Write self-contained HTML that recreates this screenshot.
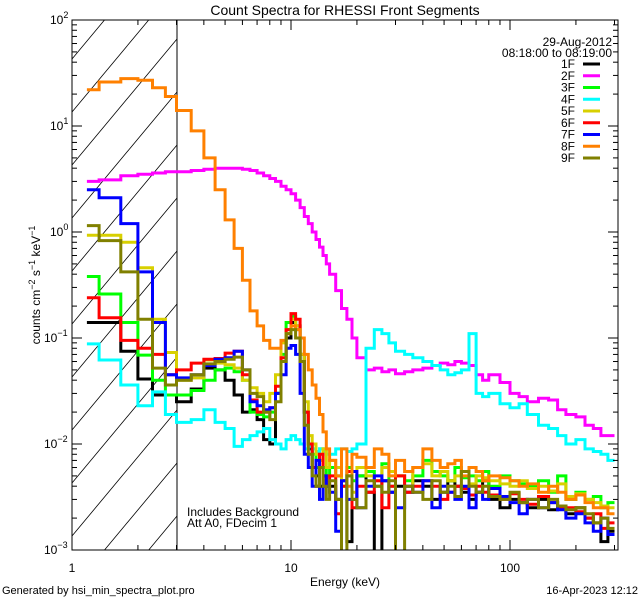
<!DOCTYPE html>
<html><head><meta charset="utf-8"><style>
html,body{margin:0;padding:0;background:#fff;width:640px;height:600px;overflow:hidden;}
svg{display:block;}
svg text{font-family:"Liberation Sans",sans-serif;fill:#000;}
</style></head><body>
<svg id="chart" width="640" height="600" viewBox="0 0 640 600" xmlns="http://www.w3.org/2000/svg">
<rect x="0" y="0" width="640" height="600" fill="#fff"/>
<defs><clipPath id="plotclip"><rect x="72" y="20" width="546" height="530"/></clipPath></defs>
<text x="345" y="15" font-size="14" text-anchor="middle">Count Spectra for RHESSI Front Segments</text>
<g id="hatch"></g>
<line x1="177" y1="20" x2="177" y2="550" stroke="#000" stroke-width="1"/>
<g id="series" clip-path="url(#plotclip)"></g>
<rect x="72" y="20" width="546" height="530" fill="none" stroke="#000" stroke-width="1"/>
<g id="axes"></g>
<text transform="translate(40,285) rotate(-90)" font-size="12" text-anchor="middle">counts cm<tspan dy="-5" font-size="9">−2</tspan><tspan dy="5"> s</tspan><tspan dy="-5" font-size="9">−1</tspan><tspan dy="5"> keV</tspan><tspan dy="-5" font-size="9">−1</tspan></text>
<text x="345" y="586" font-size="12" text-anchor="middle">Energy (keV)</text>
<text x="2" y="594" font-size="11">Generated by hsi_min_spectra_plot.pro</text>
<text x="638" y="594" font-size="11" text-anchor="end">16-Apr-2023 12:12</text>
<text x="187" y="516" font-size="12">Includes Background</text>
<text x="187" y="527" font-size="12">Att A0, FDecim 1</text>
<text x="612" y="46" font-size="12" text-anchor="end">29-Aug-2012</text>
<text x="612" y="57" font-size="12" text-anchor="end">08:18:00 to 08:19:00</text>
<g id="legend"></g>
</svg>
<script>
const edges=[1.17,1.33,1.67,2,2.33,2.67,3,3.5,4,4.5,5,5.5,6,6.5,7,7.5,8,8.5,9,9.5,10,10.5,11,11.5,12,12.5,13,13.5,14,14.5,15,16,17,18,19,20,22,24,26,28,30,33,36,40,44,48,52,56,60,65,70,75,80,90,100,110,120,135,150,165,180,200,220,240,260,280,300];
const seriesNames=["1F","2F","3F","4F","5F","6F","7F","8F","9F"];
const seriesColors=["#000000","#ff00ff","#00ff00","#00ffff","#d8d000","#ff0000","#0000ff","#ff8000","#808000"];
const s1F=[0.14,0.14,0.075,0.041,0.029,0.029, 0.025,0.033,0.052,0.05,0.04,0.029,0.02,0.021,0.017,0.011,0.01,0.03,0.06,0.1,0.14,0.13,0.07,0.02,0.009,0.006,0.005,0.004,0.005,0.004, 0.004,0.003,0.0045,0.0012,0.003,0.005,0.0035,0.0008,0.0045,0.0035,0.004,0.0035,0.0045,0.004,0.003,0.0035,0.0045,0.004,0.0035,0.003,0.0035,0.0045,0.003,0.0025,0.003,0.0028,0.0025,0.003,0.0024,0.0026,0.0022,0.0025,0.002,0.0018,0.0012,0.0015];
const s2F=[3.0,3.1,3.4,3.5,3.6,3.7, 3.7,3.8,3.9,4.0,4.0,4.0,3.9,3.8,3.6,3.4,3.2,3.0,2.7,2.5,2.3,2.0,1.7,1.4,1.2,1.0,0.85,0.72,0.6,0.5, 0.4,0.28,0.19,0.15,0.1,0.065,0.05,0.052,0.048,0.05,0.046,0.048,0.05,0.052,0.055,0.058,0.056,0.06,0.058,0.055,0.045,0.04,0.045,0.038,0.03,0.028,0.025,0.027,0.026,0.021,0.019,0.018,0.015,0.014,0.012,0.012];
const s3F=[0.38,0.26,0.14,0.069,0.04,0.029, 0.029,0.032,0.04,0.05,0.052,0.048,0.04,0.02,0.019,0.018,0.02,0.03,0.07,0.14,0.16,0.12,0.06,0.02,0.01,0.008,0.006,0.009,0.006,0.005, 0.006,0.005,0.004,0.006,0.0045,0.005,0.0055,0.004,0.0065,0.004,0.005,0.0045,0.005,0.007,0.0055,0.005,0.0045,0.006,0.0048,0.005,0.0045,0.0055,0.004,0.005,0.0045,0.0042,0.004,0.0045,0.0035,0.005,0.003,0.0035,0.003,0.0032,0.0025,0.0028];
const s4F=[0.088,0.062,0.036,0.023,0.031,0.019, 0.016,0.017,0.021,0.016,0.014,0.0095,0.011,0.012,0.013,0.014,0.011,0.01,0.009,0.011,0.012,0.011,0.01,0.009,0.0095,0.009,0.0085,0.009,0.0085,0.008, 0.008,0.009,0.009,0.0085,0.009,0.01,0.08,0.12,0.11,0.09,0.075,0.07,0.065,0.06,0.055,0.05,0.045,0.047,0.05,0.11,0.03,0.028,0.03,0.024,0.022,0.024,0.019,0.015,0.014,0.012,0.01,0.011,0.009,0.0085,0.008,0.007];
const s5F=[0.93,0.93,0.8,0.46,0.15,0.073, 0.04,0.042,0.062,0.058,0.056,0.052,0.04,0.034,0.03,0.025,0.03,0.045,0.09,0.12,0.15,0.13,0.07,0.025,0.012,0.01,0.008,0.007,0.009,0.006, 0.007,0.006,0.0045,0.005,0.0035,0.006,0.005,0.0045,0.006,0.0055,0.005,0.004,0.006,0.0065,0.005,0.0055,0.0045,0.005,0.0055,0.0042,0.005,0.0048,0.0045,0.0042,0.004,0.0045,0.0038,0.004,0.0036,0.0042,0.0032,0.0034,0.003,0.0028,0.0026,0.0025];
const s6F=[0.24,0.155,0.095,0.08,0.07,0.045, 0.05,0.058,0.063,0.064,0.072,0.075,0.045,0.026,0.02,0.02,0.022,0.035,0.065,0.12,0.17,0.15,0.06,0.02,0.01,0.006,0.004,0.008,0.005,0.004, 0.005,0.0022,0.004,0.0055,0.0025,0.004,0.0035,0.0045,0.0025,0.004,0.005,0.0035,0.004,0.0045,0.004,0.003,0.0035,0.004,0.0038,0.0033,0.004,0.0035,0.0033,0.003,0.0034,0.003,0.0027,0.0032,0.0028,0.0025,0.0025,0.0023,0.002,0.0022,0.0016,0.0018];
const s7F=[2.5,2.1,1.2,0.42,0.14,0.045, 0.042,0.045,0.055,0.063,0.065,0.075,0.05,0.025,0.023,0.021,0.022,0.03,0.045,0.08,0.085,0.07,0.03,0.008,0.006,0.004,0.007,0.003,0.005,0.004, 0.0035,0.0015,0.0045,0.003,0.0055,0.0025,0.004,0.005,0.0045,0.0035,0.0025,0.004,0.0035,0.0045,0.0025,0.004,0.0035,0.003,0.004,0.0025,0.0035,0.003,0.0038,0.0032,0.0028,0.0022,0.003,0.0025,0.0028,0.0024,0.002,0.0022,0.0018,0.0015,0.002,0.0014];
const s8F=[22,26,28,27,23,19, 14,9,5,2.5,1.3,0.7,0.35,0.18,0.13,0.095,0.08,0.08,0.095,0.11,0.13,0.12,0.1,0.07,0.05,0.036,0.027,0.019,0.013,0.009, 0.007,0.005,0.009,0.004,0.008,0.0075,0.006,0.009,0.008,0.005,0.007,0.0055,0.006,0.009,0.007,0.006,0.0065,0.007,0.005,0.006,0.0055,0.0045,0.005,0.0048,0.0045,0.004,0.0042,0.0035,0.004,0.0035,0.003,0.0033,0.0028,0.0025,0.0025,0.0022];
const s9F=[1.15,0.83,0.42,0.15,0.052,0.036, 0.04,0.045,0.057,0.06,0.063,0.066,0.05,0.03,0.028,0.02,0.017,0.025,0.06,0.11,0.12,0.1,0.06,0.015,0.008,0.005,0.004,0.006,0.004,0.003, 0.0045,0.003,0.0008,0.005,0.003,0.0025,0.0045,0.004,0.0035,0.0045,0.0008,0.004,0.0035,0.003,0.0045,0.0035,0.004,0.0032,0.0055,0.004,0.0035,0.004,0.0032,0.003,0.0035,0.0028,0.003,0.0025,0.003,0.0026,0.0024,0.0025,0.0022,0.0018,0.002,0.0016];
const xTickLabels=["1","10","100"];
const yTickExps=["−3","−2","−1","0","1","2"];

const NS="http://www.w3.org/2000/svg";
const X0=72,X1=618,Y0=20,Y1=550;
const xDecade=219, yDecade=106;
function xs(e){return X0+xDecade*Math.log10(e);}
function ys(v){const c=Math.max(v,1e-4);return Y1+1-Math.max(0,Y1+1-(Y0+(2-Math.log10(c))*yDecade));}
function mk(tag,attrs,parent){const el=document.createElementNS(NS,tag);for(const k in attrs)el.setAttribute(k,attrs[k]);parent.appendChild(el);return el;}

// hatch lines clipped analytically to the region x 72..177, y 20..550 (slope 1.2 up-right)
const hatch=document.getElementById('hatch');
const HX1=177, slope=1.2;
for(let c=-100;c<=Y1+slope*(HX1-X0)+60;c+=53){
  // line: y = c - slope*(x-X0)
  let xa=X0, ya=c;
  if(ya>Y1){xa=X0+(ya-Y1)/slope;ya=Y1;}
  let xb=HX1, yb=c-slope*(HX1-X0);
  if(yb<Y0){xb=X0+(c-Y0)/slope;yb=Y0;}
  if(xa>=HX1||xb<=X0||ya<Y0||yb>Y1||xa>=xb)continue;
  const ln=mk('line',{x1:xa.toFixed(1),y1:ya.toFixed(1),x2:xb.toFixed(1),y2:yb.toFixed(1),stroke:'#000','stroke-width':0.8},hatch);
  
  
}

const allSeries=[s1F,s2F,s3F,s4F,s5F,s6F,s7F,s8F,s9F];
const sg=document.getElementById('series');
allSeries.forEach((vals,si)=>{
  let d='';
  for(let i=0;i<vals.length;i++){
    const xa=xs(edges[i]).toFixed(1),xb=Math.min(xs(edges[i+1]),X1).toFixed(1),y=ys(vals[i]).toFixed(1);
    d+=(i===0?'M':'L')+xa+' '+y+'L'+xb+' '+y;
  }
  const p=mk('path',{d:d,fill:'none',stroke:seriesColors[si],'stroke-width':3,'stroke-linejoin':'miter'},sg);
  
  
});

const ax=document.getElementById('axes');
for(let dec=-3;dec<=2;dec++){
  for(let m=1;m<=9;m++){
    if(dec===2&&m>1)break;
    const y=Y0+(2-Math.log10(m*Math.pow(10,dec)))*yDecade;
    const len=m===1?10:5;
    const t1=mk('line',{x1:X0,y1:y,x2:X0+len,y2:y,stroke:'#000','stroke-width':1},ax);
    
    
    const t2=mk('line',{x1:X1,y1:y,x2:X1-len,y2:y,stroke:'#000','stroke-width':1},ax);
    
    
  }
}
yTickExps.forEach((e,i)=>{
  const y=Y0+(2-(i-3))*yDecade;
  const t=mk('text',{x:X0-28+(e.length===1?6:0),y:y+4,'font-size':12},ax);
  
  
  t.textContent='10';
  const sp=document.createElementNS(NS,'tspan');
  sp.setAttribute('dy','-6');sp.setAttribute('font-size','9');
  sp.textContent=e;
  t.appendChild(sp);
});
for(let dec=0;dec<=2;dec++){
  for(let m=1;m<=9;m++){
    const v=m*Math.pow(10,dec);const x=xs(v);
    if(x>X1)break;
    const len=m===1?10:5;
    const b=mk('line',{x1:x,y1:Y1,x2:x,y2:Y1-len,stroke:'#000','stroke-width':1},ax);
    
    
    const t=mk('line',{x1:x,y1:Y0,x2:x,y2:Y0+len,stroke:'#000','stroke-width':1},ax);
    
    
  }
}
xTickLabels.forEach((lab,i)=>{
  const t=mk('text',{x:xs(Math.pow(10,i)),y:572,'font-size':12,'text-anchor':'middle'},ax);
  
  
  t.textContent=lab;
});

const lg=document.getElementById('legend');
seriesNames.forEach((n,i)=>{
  const y=64+i*11.75;
  const t=mk('text',{x:575,y:y+4,'font-size':12,'text-anchor':'end'},lg);
  
  
  t.textContent=n;
  const l=mk('line',{x1:583,y1:y,x2:600,y2:y,stroke:seriesColors[i],'stroke-width':3},lg);
  
  
});
</script>
</body></html>
